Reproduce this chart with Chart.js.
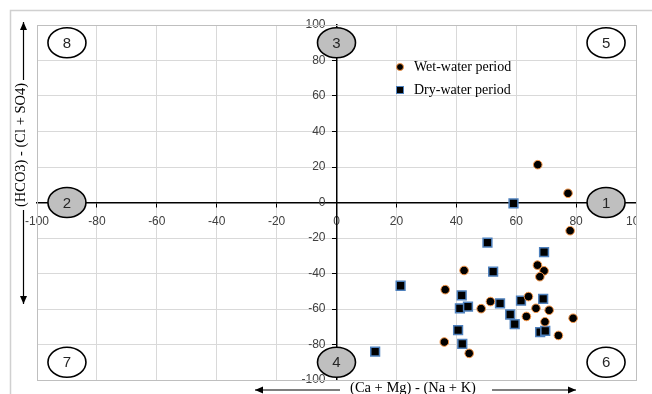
<!DOCTYPE html>
<html><head><meta charset="utf-8">
<script src="https://cdn.jsdelivr.net/npm/chart.js@4.4.1/dist/chart.umd.min.js"></script>
<style>html,body{margin:0;padding:0;background:#fff;}#wrap{width:652px;height:394px;position:relative;}</style>
</head><body><div id="wrap"><canvas id="c" width="652" height="394"></canvas></div>
<script>
// ---- data ----
const seriesNames = ['Wet-water period', 'Dry-water period'];
const wetX = [67.2, 77.3, 78.0, 42.6, 67.1, 69.3, 67.9, 36.3, 51.4, 48.3, 64.1, 66.6, 71.0, 63.4, 69.6, 79.0, 74.1, 36.0, 44.3];
const wetY = [21.3, 5.2, -15.9, -38.3, -35.3, -38.5, -41.8, -49.1, -55.8, -59.8, -53.0, -59.6, -60.7, -64.2, -67.2, -65.2, -74.9, -78.6, -85.0];
const dryX = [59.1, 50.4, 69.3, 52.3, 21.4, 41.8, 41.2, 43.9, 54.6, 61.6, 69.0, 58.0, 59.5, 40.6, 68.0, 69.7, 42.0, 12.9];
const dryY = [-0.5, -22.6, -28.0, -39.0, -46.9, -52.3, -59.6, -58.6, -56.8, -55.3, -54.3, -63.1, -68.5, -71.9, -73.0, -72.3, -79.7, -84.0];
const axisMin = -100, axisMax = 100, axisStep = 20;
const zoneLabels = ['8', '3', '5', '2', '1', '7', '4', '6'];
const zoneX = [-90, 0, 90, -90, 90, -90, 0, 90];
const zoneY = [90, 90, 90, 0, 0, -90, -90, -90];
const zoneShaded = [false, true, false, true, true, false, true, false];
const xTitle = '(Ca + Mg) - (Na + K)';
const yTitle = '(HCO3) - (Cl + SO4)';

const tickFont = {family: 'Liberation Sans', size: 12};
const tickColor = '#404040';
const gridColor = ctx => (ctx.tick && ctx.tick.value === 0) ? 'rgba(0,0,0,0)' : '#d9d9d9';

function arrow(c, x1, y1, x2, y2) {
  c.beginPath(); c.moveTo(x1, y1); c.lineTo(x2, y2); c.stroke();
  const a = Math.atan2(y2 - y1, x2 - x1), L = 8, W = 3.5;
  c.beginPath();
  c.moveTo(x2, y2);
  c.lineTo(x2 - L * Math.cos(a) + W * Math.sin(a), y2 - L * Math.sin(a) - W * Math.cos(a));
  c.lineTo(x2 - L * Math.cos(a) - W * Math.sin(a), y2 - L * Math.sin(a) + W * Math.cos(a));
  c.closePath(); c.fill();
}

// keep y tick labels clear of the centred axis line (tick + padding)
function offsetYLabels(s) {
  if (s._labelPatched) return;
  const orig = s._computeLabelItems.bind(s);
  s._computeLabelItems = (ca) => orig(ca).map(it => {
    it.options.translation = [it.options.translation[0] - 11, it.options.translation[1]];
    return it;
  });
  s._labelPatched = true;
}

const decor = {
  id: 'decor',
  beforeDraw(chart) {
    const c = chart.ctx;
    c.save();
    c.fillStyle = '#fff'; c.fillRect(0, 0, chart.width, chart.height);
    c.strokeStyle = '#d0d0d0'; c.lineWidth = 1.5;
    c.beginPath(); c.moveTo(10.5, chart.height); c.lineTo(10.5, 10.5); c.lineTo(chart.width, 10.5); c.stroke();
    c.restore();
  },
  afterDraw(chart) {
    const c = chart.ctx, a = chart.chartArea, sx = chart.scales.x, sy = chart.scales.y;
    c.save();
    // hide label overflow right of plot
    c.fillStyle = '#fff'; c.fillRect(a.right + 1, sy.getPixelForValue(0) + 3, chart.width - a.right, 30);
    // plot border
    c.strokeStyle = '#bfbfbf'; c.lineWidth = 1;
    c.strokeRect(Math.round(a.left) + 0.5, Math.round(a.top) + 0.5, Math.round(a.right - a.left), Math.round(a.bottom - a.top));
    // zone ellipses
    for (let i = 0; i < zoneLabels.length; i++) {
      const px = sx.getPixelForValue(zoneX[i]), py = sy.getPixelForValue(zoneY[i]);
      c.beginPath(); c.ellipse(px, py, 19, 15, 0, 0, Math.PI * 2);
      c.fillStyle = zoneShaded[i] ? '#bfbfbf' : '#ffffff'; c.fill();
      c.strokeStyle = '#000'; c.lineWidth = 1.6; c.stroke();
      c.fillStyle = '#262626'; c.font = '15px "Liberation Sans"';
      c.textAlign = 'center'; c.textBaseline = 'middle';
      c.fillText(zoneLabels[i], px, py + 1);
    }
    // legend
    const ds = chart.data.datasets;
    const lx = 400, ly = [67, 90];
    c.font = '14px "Liberation Serif"'; c.textAlign = 'left'; c.textBaseline = 'middle';
    for (let i = 0; i < ds.length; i++) {
      c.fillStyle = ds[i].backgroundColor; c.strokeStyle = ds[i].borderColor; c.lineWidth = 1;
      if (ds[i].pointStyle === 'rect') {
        c.fillRect(lx - 3.5, ly[i] - 3.5, 7, 7); c.strokeRect(lx - 3.5, ly[i] - 3.5, 7, 7);
      } else {
        c.beginPath(); c.arc(lx, ly[i], 3.5, 0, Math.PI * 2); c.fill(); c.stroke();
      }
      c.fillStyle = '#000';
      c.fillText(ds[i].label, 414, ly[i]);
    }
    // axis titles and arrows
    c.fillStyle = '#000'; c.strokeStyle = '#000'; c.lineWidth = 1.2;
    c.font = '14.5px "Liberation Serif"'; c.textAlign = 'center'; c.textBaseline = 'middle';
    c.fillText(xTitle, 413, 388);
    arrow(c, 340, 390, 255, 390);
    arrow(c, 492, 390, 576, 390);
    c.save(); c.translate(21, 145); c.rotate(-Math.PI / 2); c.fillText(yTitle, 0, 0); c.restore();
    arrow(c, 23.5, 80, 23.5, 22);
    arrow(c, 23.5, 210, 23.5, 304);
    c.restore();
  }
};

const ctx = document.getElementById('c').getContext('2d');
new Chart(ctx, {
  type: 'scatter',
  data: {
    datasets: [
      {label: seriesNames[0], data: wetX.map((x, i) => ({x, y: wetY[i]})), pointStyle: 'circle', pointRadius: 4.3, backgroundColor: '#000', borderColor: '#f79646', borderWidth: 1},
      {label: seriesNames[1], data: dryX.map((x, i) => ({x, y: dryY[i]})), pointStyle: 'rect', pointRadius: 6.2, backgroundColor: '#000', borderColor: '#4f81bd', borderWidth: 1.5}
    ]
  },
  options: {
    responsive: false, animation: false, devicePixelRatio: 1,
    layout: {padding: {left: 37, right: 16, top: 25, bottom: 14}},
    plugins: {legend: {display: false}, tooltip: {enabled: false}},
    scales: {
      x: {
        type: 'linear', min: axisMin, max: axisMax, position: {y: 0},
        ticks: {stepSize: axisStep, color: tickColor, font: tickFont, padding: 8, maxRotation: 0, autoSkip: false},
        grid: {color: gridColor, tickColor: '#000', tickLength: 4},
        border: {color: '#000', width: 1.5},
        afterFit: s => { s.height = 0; s.paddingLeft = 0; s.paddingRight = 0; }
      },
      y: {
        type: 'linear', min: axisMin, max: axisMax, position: {x: 0},
        ticks: {stepSize: axisStep, color: tickColor, font: tickFont, padding: 6, autoSkip: false},
        grid: {color: gridColor, tickColor: '#000', tickLength: 4},
        border: {color: '#000', width: 1.5},
        afterFit: s => { s.width = 0; s.paddingTop = 0; s.paddingBottom = 0; offsetYLabels(s); }
      }
    }
  },
  plugins: [decor]
});
</script></body></html>
